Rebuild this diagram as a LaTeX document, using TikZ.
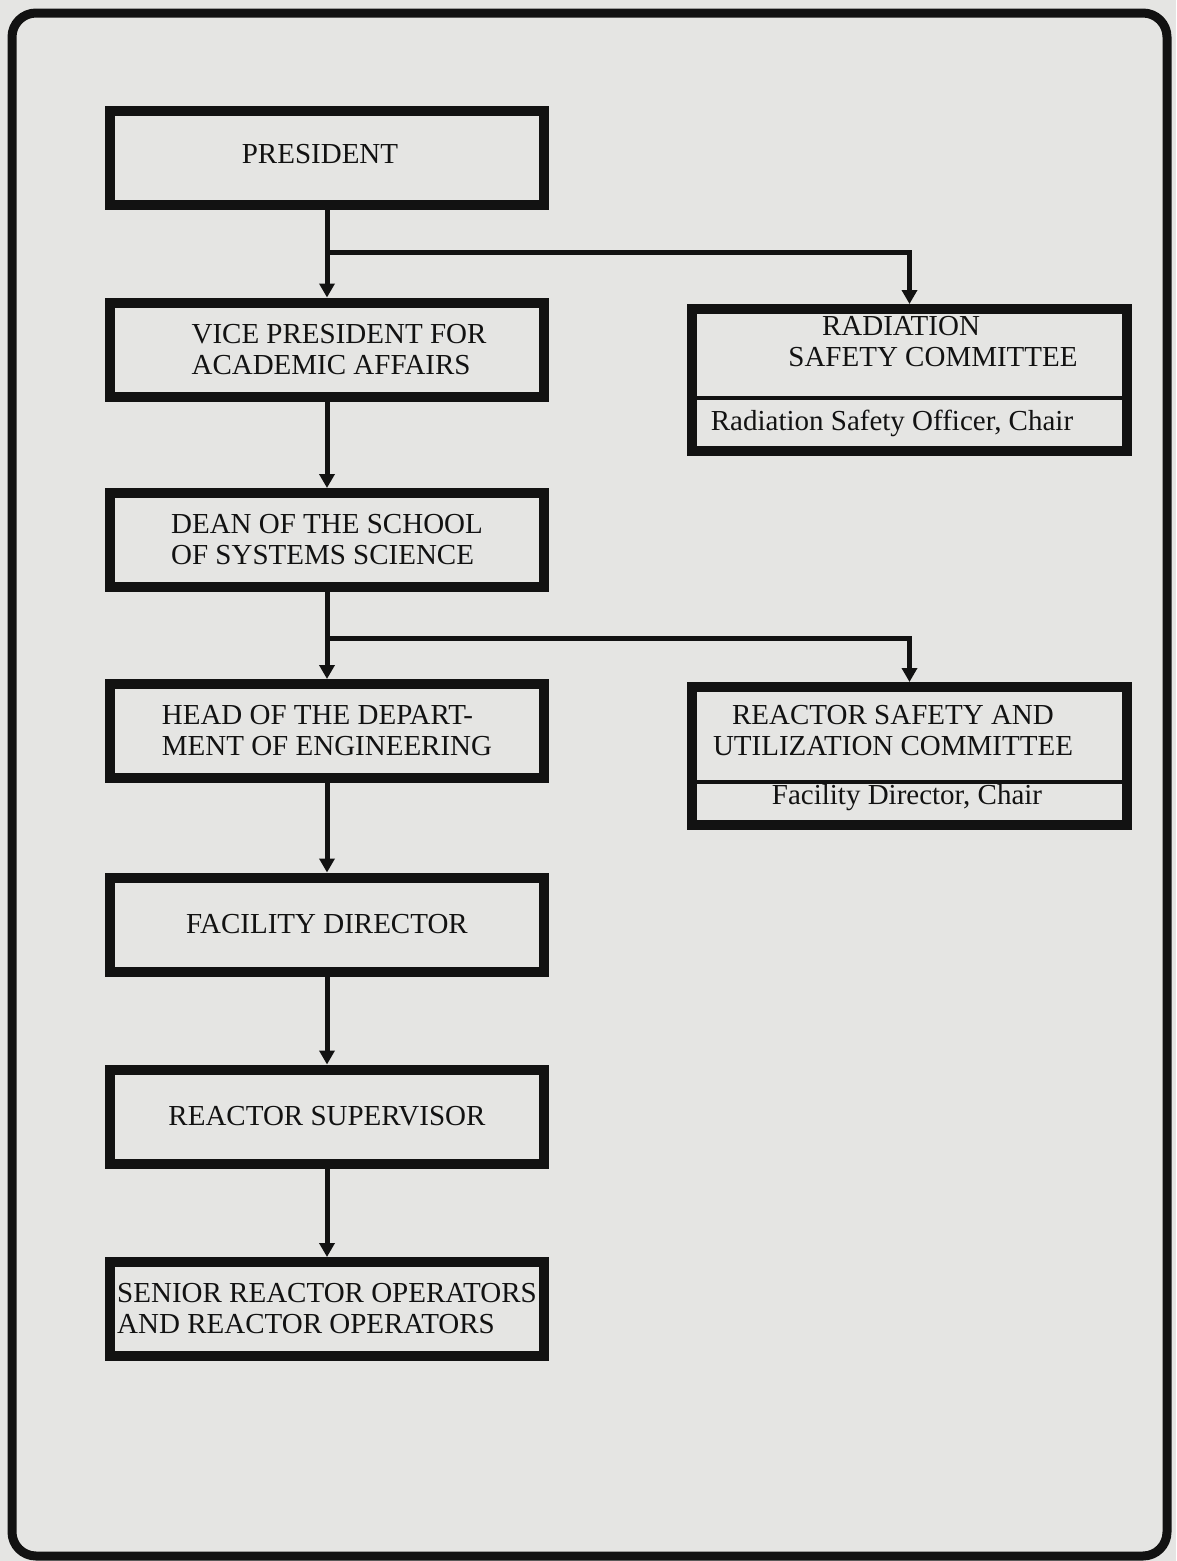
\documentclass[tikz,border=0pt]{standalone}
\usepackage{fontspec}
\setmainfont{Liberation Serif}
\usetikzlibrary{arrows.meta}
\definecolor{paper}{RGB}{229,229,227}
\definecolor{ink}{RGB}{18,18,18}
\begin{document}
\begin{tikzpicture}[x=1pt,y=-1pt,
 box/.style={draw=ink, line width=10pt, rectangle, minimum width=434pt, minimum height=94pt, inner sep=0pt, align=left, font=\fontsize{29}{31}\selectfont, text=ink},
 cbox/.style={draw=ink, line width=10pt, rectangle, minimum width=435pt, inner sep=0pt},
 txt/.style={align=center, font=\fontsize{29}{31}\selectfont, text=ink, inner sep=0pt},
 conn/.style={draw=ink, line width=5pt, -{Triangle[length=14pt,width=15pt]}},
 link/.style={draw=ink, line width=5pt},
 divider/.style={draw=ink, line width=3.5pt}]
\useasboundingbox (0,0) rectangle (1176,1561);
\fill[paper] (0,0) rectangle (1176,1561);
\draw[ink, line width=9pt, rounded corners=24pt] (12,13) rectangle (1167,1556);

% left column
\node[box] (pres) at (327,157.5) {\raisebox{7pt}{PRESIDENT}\hspace*{14pt}};
\node[box] (vp)   at (327,349.5) {\hspace*{24pt}VICE PRESIDENT FOR\\\hspace*{24pt}ACADEMIC AFFAIRS};
\node[box] (dean) at (327,540) {DEAN OF THE SCHOOL\\OF SYSTEMS SCIENCE};
\node[box] (head) at (327,731) {HEAD OF THE DEPART-\\MENT OF ENGINEERING};
\node[box] (fac)  at (327,924.5) {FACILITY DIRECTOR};
\node[box] (sup)  at (327,1116.5) {REACTOR SUPERVISOR};
\node[box] (sro)  at (327,1309) {SENIOR REACTOR OPERATORS\\AND REACTOR OPERATORS};

% right column
\node[cbox, minimum height=142pt] (rad) at (909.5,380) {};
\draw[divider] (rad.west |- 0,398) -- (rad.east |- 0,398);
\node[txt] (radA) at (901,326) {RADIATION};
\node[txt] (radB) at (933,357) {SAFETY COMMITTEE};
\node[txt, anchor=base] (radC) at (892,430) {Radiation Safety Officer, Chair};

\node[cbox, minimum height=138pt] (rsu) at (909.5,756) {};
\draw[divider] (rsu.west |- 0,782) -- (rsu.east |- 0,782);
\node[txt] (rsuA) at (893,730.5) {REACTOR SAFETY AND\\UTILIZATION COMMITTEE};
\node[txt, anchor=base] (rsuB) at (907,804) {Facility Director, Chair};

% connectors
\coordinate (j1) at (327,252);
\coordinate (j2) at (327,638);
\draw[conn] (pres.south) -- (vp.north);
\draw[conn] (j1) -| (rad.north);
\draw[conn] (vp.south) -- (dean.north);
\draw[conn] (dean.south) -- (head.north);
\draw[conn] (j2) -| (rsu.north);
\draw[conn] (head.south) -- (fac.north);
\draw[conn] (fac.south) -- (sup.north);
\draw[conn] (sup.south) -- (sro.north);
\end{tikzpicture}
\end{document}
